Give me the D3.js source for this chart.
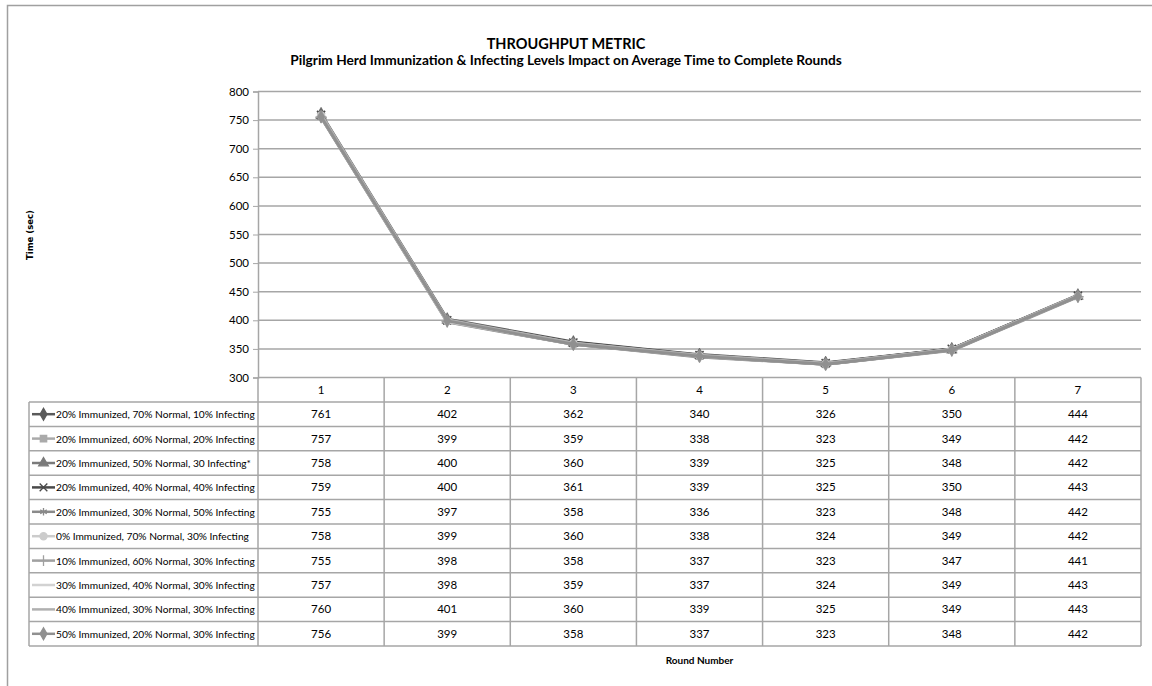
<!DOCTYPE html>
<html>
  <head>
    <title>Throughput Metric</title>
    <script src="https://d3js.org/d3.v7.min.js"></script>
    <style>
      body { margin: 0; background: #fff; }
      text { font-family: Lato, "Open Sans", sans-serif; fill: #000; }
    </style>
  </head>

  <body>
    <svg id="plot" width="1152" height="686"></svg>

    <script>
      // data
      var rounds = ["1", "2", "3", "4", "5", "6", "7"];
      var yTicks = [300, 350, 400, 450, 500, 550, 600, 650, 700, 750, 800];
      var seriesNames = [
        "20% Immunized, 70% Normal, 10% Infecting",
        "20% Immunized, 60% Normal, 20% Infecting",
        "20% Immunized, 50% Normal, 30 Infecting*",
        "20% Immunized, 40% Normal, 40% Infecting",
        "20% Immunized, 30% Normal, 50% Infecting",
        "0% Immunized, 70% Normal, 30% Infecting",
        "10% Immunized, 60% Normal, 30% Infecting",
        "30% Immunized, 40% Normal, 30% Infecting",
        "40% Immunized, 30% Normal, 30% Infecting",
        "50% Immunized, 20% Normal, 30% Infecting"
      ];
      var imm20norm70 = [761, 402, 362, 340, 326, 350, 444];
      var imm20norm60 = [757, 399, 359, 338, 323, 349, 442];
      var imm20norm50 = [758, 400, 360, 339, 325, 348, 442];
      var imm20norm40 = [759, 400, 361, 339, 325, 350, 443];
      var imm20norm30 = [755, 397, 358, 336, 323, 348, 442];
      var imm0norm70 = [758, 399, 360, 338, 324, 349, 442];
      var imm10norm60 = [755, 398, 358, 337, 323, 347, 441];
      var imm30norm40 = [757, 398, 359, 337, 324, 349, 443];
      var imm40norm30 = [760, 401, 360, 339, 325, 349, 443];
      var imm50norm20 = [756, 399, 358, 337, 323, 348, 442];

      var seriesValues = [imm20norm70, imm20norm60, imm20norm50, imm20norm40, imm20norm30,
        imm0norm70, imm10norm60, imm30norm40, imm40norm30, imm50norm20];
      var colors = ["#5a5a5a", "#aaaaaa", "#7a7a7a", "#4a4a4a", "#8a8a8a",
        "#cccccc", "#a0a0a0", "#d2d2d2", "#b0b0b0", "#909090"];
      var symbols = [d3.symbolDiamond, d3.symbolSquare, d3.symbolTriangle, d3.symbolTimes,
        d3.symbolAsterisk, d3.symbolCircle, d3.symbolPlus, null, null, d3.symbolDiamond];

      var series = seriesNames.map(function (name, i) {
        return { name: name, values: seriesValues[i], color: colors[i], symbol: symbols[i] };
      });

      var svg = d3.select("#plot");
      var gridColor = "#a6a6a6";
      var plotLeft = 258, plotRight = 1141, plotTop = 91.5, plotBottom = 377.5;
      var rowH = 24.4, headH = 24.5, tableLeft = 29;

      var x = d3.scaleBand().domain(rounds).range([plotLeft, plotRight]);
      var y = d3.scaleLinear().domain([300, 800]).range([plotBottom, plotTop]);
      var cx = (r) => x(r) + x.bandwidth() / 2;

      var isStroke = (s) => d3.symbolsStroke.indexOf(s) >= 0 && s !== d3.symbolCircle;

      // outer frame
      svg.append("path")
        .attr("d", "M7.5,686V5.5H1152")
        .attr("fill", "none")
        .attr("stroke", "#a0a0a0")
        .attr("stroke-width", 1.5);

      // titles
      svg.append("text")
        .attr("x", 566).attr("y", 49)
        .attr("text-anchor", "middle")
        .style("font-weight", "bold").style("font-size", "14.5px")
        .text("THROUGHPUT METRIC");
      svg.append("text")
        .attr("x", 566).attr("y", 65)
        .attr("text-anchor", "middle")
        .style("font-weight", "bold").style("font-size", "13.7px")
        .text("Pilgrim Herd Immunization & Infecting Levels Impact on Average Time to Complete Rounds");

      // gridlines
      svg.append("g")
        .selectAll("line")
        .data(yTicks.slice(1))
        .join("line")
        .attr("x1", plotLeft).attr("x2", plotRight)
        .attr("y1", (d) => y(d)).attr("y2", (d) => y(d))
        .attr("stroke", gridColor).attr("stroke-width", 1.5);

      // y axis
      var yAxis = svg.append("g")
        .attr("transform", "translate(" + plotLeft + ",0)")
        .call(d3.axisLeft(y).tickValues(yTicks).tickSize(5).tickPadding(4));
      yAxis.select(".domain").attr("stroke", gridColor).attr("stroke-width", 1.5);
      yAxis.selectAll(".tick line").attr("stroke", gridColor);
      yAxis.selectAll(".tick text")
        .style("font-size", "11.5px")
        .style("font-family", "Lato, sans-serif");

      svg.append("text")
        .attr("transform", "translate(33,235) rotate(-90)")
        .attr("text-anchor", "middle")
        .style("font-family", "DejaVu Sans, sans-serif")
        .style("font-weight", "bold").style("font-size", "8.5px")
        .text("Time (sec)");

      // lines + markers
      var line = d3.line()
        .x((d, i) => cx(rounds[i]))
        .y((d) => y(d));

      var sg = svg.append("g").selectAll("g").data(series).join("g");
      sg.append("path")
        .attr("d", (d) => line(d.values))
        .attr("fill", "none")
        .attr("stroke", (d) => d.color)
        .attr("stroke-width", 3)
        .attr("stroke-linejoin", "round");
      sg.each(function (s) {
        if (!s.symbol) return;
        var stroke = isStroke(s.symbol);
        d3.select(this).selectAll(".pt")
          .data(s.values)
          .join("path")
          .attr("class", "pt")
          .attr("transform", (d, i) => "translate(" + cx(rounds[i]) + "," + y(d) + ")")
          .attr("d", d3.symbol().type(s.symbol).size(stroke ? 45 : 50))
          .attr("fill", stroke ? "none" : s.color)
          .attr("stroke", s.color)
          .attr("stroke-width", stroke ? 1.5 : 0.5);
      });

      // data table
      var tableBottom = plotBottom + headH + rowH * series.length;
      var tg = svg.append("g");
      tg.selectAll(".vline")
        .data(rounds.concat(["end"]))
        .join("line")
        .attr("class", "vline")
        .attr("x1", (d) => d === "end" ? plotRight : x(d))
        .attr("x2", (d) => d === "end" ? plotRight : x(d))
        .attr("y1", plotBottom).attr("y2", tableBottom)
        .attr("stroke", gridColor).attr("stroke-width", 1.5);
      tg.append("line")
        .attr("x1", tableLeft).attr("x2", tableLeft)
        .attr("y1", plotBottom + headH).attr("y2", tableBottom)
        .attr("stroke", gridColor).attr("stroke-width", 1.5);
      tg.append("line")
        .attr("x1", plotLeft).attr("x2", plotRight)
        .attr("y1", plotBottom).attr("y2", plotBottom)
        .attr("stroke", gridColor).attr("stroke-width", 1.5);
      tg.selectAll(".hline")
        .data(d3.range(series.length + 1))
        .join("line")
        .attr("class", "hline")
        .attr("x1", tableLeft).attr("x2", plotRight)
        .attr("y1", (i) => plotBottom + headH + i * rowH)
        .attr("y2", (i) => plotBottom + headH + i * rowH)
        .attr("stroke", gridColor).attr("stroke-width", 1.5);

      // header labels
      tg.selectAll(".head")
        .data(rounds)
        .join("text")
        .attr("class", "head")
        .attr("x", (d) => cx(d))
        .attr("y", plotBottom + headH / 2 + 4)
        .attr("text-anchor", "middle")
        .style("font-size", "11.5px")
        .text((d) => d);

      var rows = tg.selectAll(".row")
        .data(series)
        .join("g")
        .attr("class", "row")
        .attr("transform", (d, i) => "translate(0," + (plotBottom + headH + i * rowH + rowH / 2) + ")");

      rows.append("line")
        .attr("x1", 32).attr("x2", 55)
        .attr("stroke", (d) => d.color).attr("stroke-width", 2.5);
      rows.filter((d) => d.symbol)
        .append("path")
        .attr("transform", "translate(43.5,0)")
        .attr("d", (d) => d3.symbol().type(d.symbol).size(40)())
        .attr("fill", (d) => isStroke(d.symbol) ? "none" : d.color)
        .attr("stroke", (d) => d.color)
        .attr("stroke-width", 1.3);
      rows.append("text")
        .attr("x", 56).attr("y", 4)
        .style("font-size", "10.2px")
        .text((d) => d.name);

      rows.selectAll(".val")
        .data((d) => d.values)
        .join("text")
        .attr("class", "val")
        .attr("x", (d, i) => cx(rounds[i]))
        .attr("y", 4)
        .attr("text-anchor", "middle")
        .style("font-size", "11.5px")
        .text((d) => d);

      svg.append("text")
        .attr("x", (plotLeft + plotRight) / 2).attr("y", 664)
        .attr("text-anchor", "middle")
        .style("font-weight", "bold").style("font-size", "10px")
        .text("Round Number");
    </script>
  </body>
</html>
